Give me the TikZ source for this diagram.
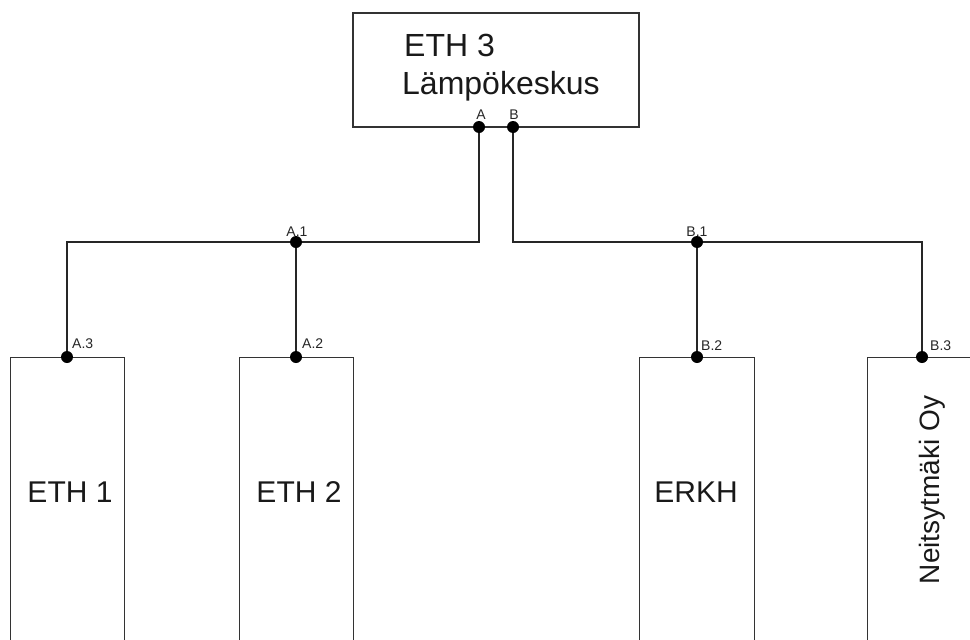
\documentclass[tikz,border=0pt]{standalone}
\usepackage{fontspec}
\setmainfont{Liberation Sans}
\begin{document}
\begin{tikzpicture}[x=1pt,y=-1pt,
  unitbox/.style={draw=black!80, line width=1.4pt, inner sep=0pt},
  wire/.style={draw=black!85, line width=1.4pt},
  port/.style={circle, fill=black, inner sep=0pt, minimum size=12pt},
  plabel/.style={font=\fontsize{14}{14}\selectfont, inner sep=0pt, text=black!85},
  bigtext/.style={font=\fontsize{30}{30}\selectfont, inner sep=0pt, text=black!90},
  toptext/.style={font=\fontsize{32}{32}\selectfont, inner sep=0pt, text=black!90},
  sidetext/.style={font=\fontsize{28}{28}\selectfont, inner sep=0pt, text=black!90}]
\useasboundingbox (0,0) rectangle (970,640);
\clip (0,0) rectangle (970,640);
% boxes
\node[unitbox, minimum width=286pt, minimum height=114pt] (top) at (496,70) {};
\node[unitbox, anchor=north west, minimum width=114pt, minimum height=400pt] (eth1) at (10,357) {};
\node[unitbox, anchor=north west, minimum width=114pt, minimum height=400pt] (eth2) at (239,357) {};
\node[unitbox, anchor=north west, minimum width=115pt, minimum height=400pt] (erkh) at (639,357) {};
\node[unitbox, anchor=north west, minimum width=200pt, minimum height=400pt] (neit) at (867,357) {};
% texts
\node[toptext, anchor=base west] (t3a) at (404,56) {ETH 3};
\node[toptext, anchor=base west] (t3b) at (402,94) {Lämpökeskus};
\node[bigtext, anchor=base] (t1) at (70,502) {ETH 1};
\node[bigtext, anchor=base] (t2) at (299,502) {ETH 2};
\node[bigtext, anchor=base] (t4) at (696,502) {ERKH};
\node[sidetext, rotate=90, anchor=base] (t5) at (939,490) {Neitsytmäki Oy};
% junction coordinates
\coordinate (jA) at (479,242);
\coordinate (jL) at (67,242);
\coordinate (jB) at (513,242);
\coordinate (jR) at (922,242);
% wires
\draw[wire] (479,127) -- (jA) -- (jL) -- (67,357);
\draw[wire] (296,242) -- (296,357);
\draw[wire] (513,127) -- (jB) -- (jR) -- (922,357);
\draw[wire] (697,242) -- (697,357);
% ports
\node[port] (pA) at (479,127) {};
\node[port] (pB) at (513,127) {};
\node[port] (pA1) at (296,242) {};
\node[port] (pA2) at (296,357) {};
\node[port] (pA3) at (67,357) {};
\node[port] (pB1) at (697,242) {};
\node[port] (pB2) at (697,357) {};
\node[port] (pB3) at (922,357) {};
% port labels
\node[plabel, anchor=base] (lA) at (481,119) {A};
\node[plabel, anchor=base] (lB) at (514,119) {B};
\node[plabel, anchor=base] (lA1) at (297,236) {A.1};
\node[plabel, anchor=base west] (lA2) at (302,348) {A.2};
\node[plabel, anchor=base west] (lA3) at (72,348) {A.3};
\node[plabel, anchor=base] (lB1) at (697,236) {B.1};
\node[plabel, anchor=base west] (lB2) at (701,350) {B.2};
\node[plabel, anchor=base west] (lB3) at (930,350) {B.3};
\end{tikzpicture}
\end{document}
